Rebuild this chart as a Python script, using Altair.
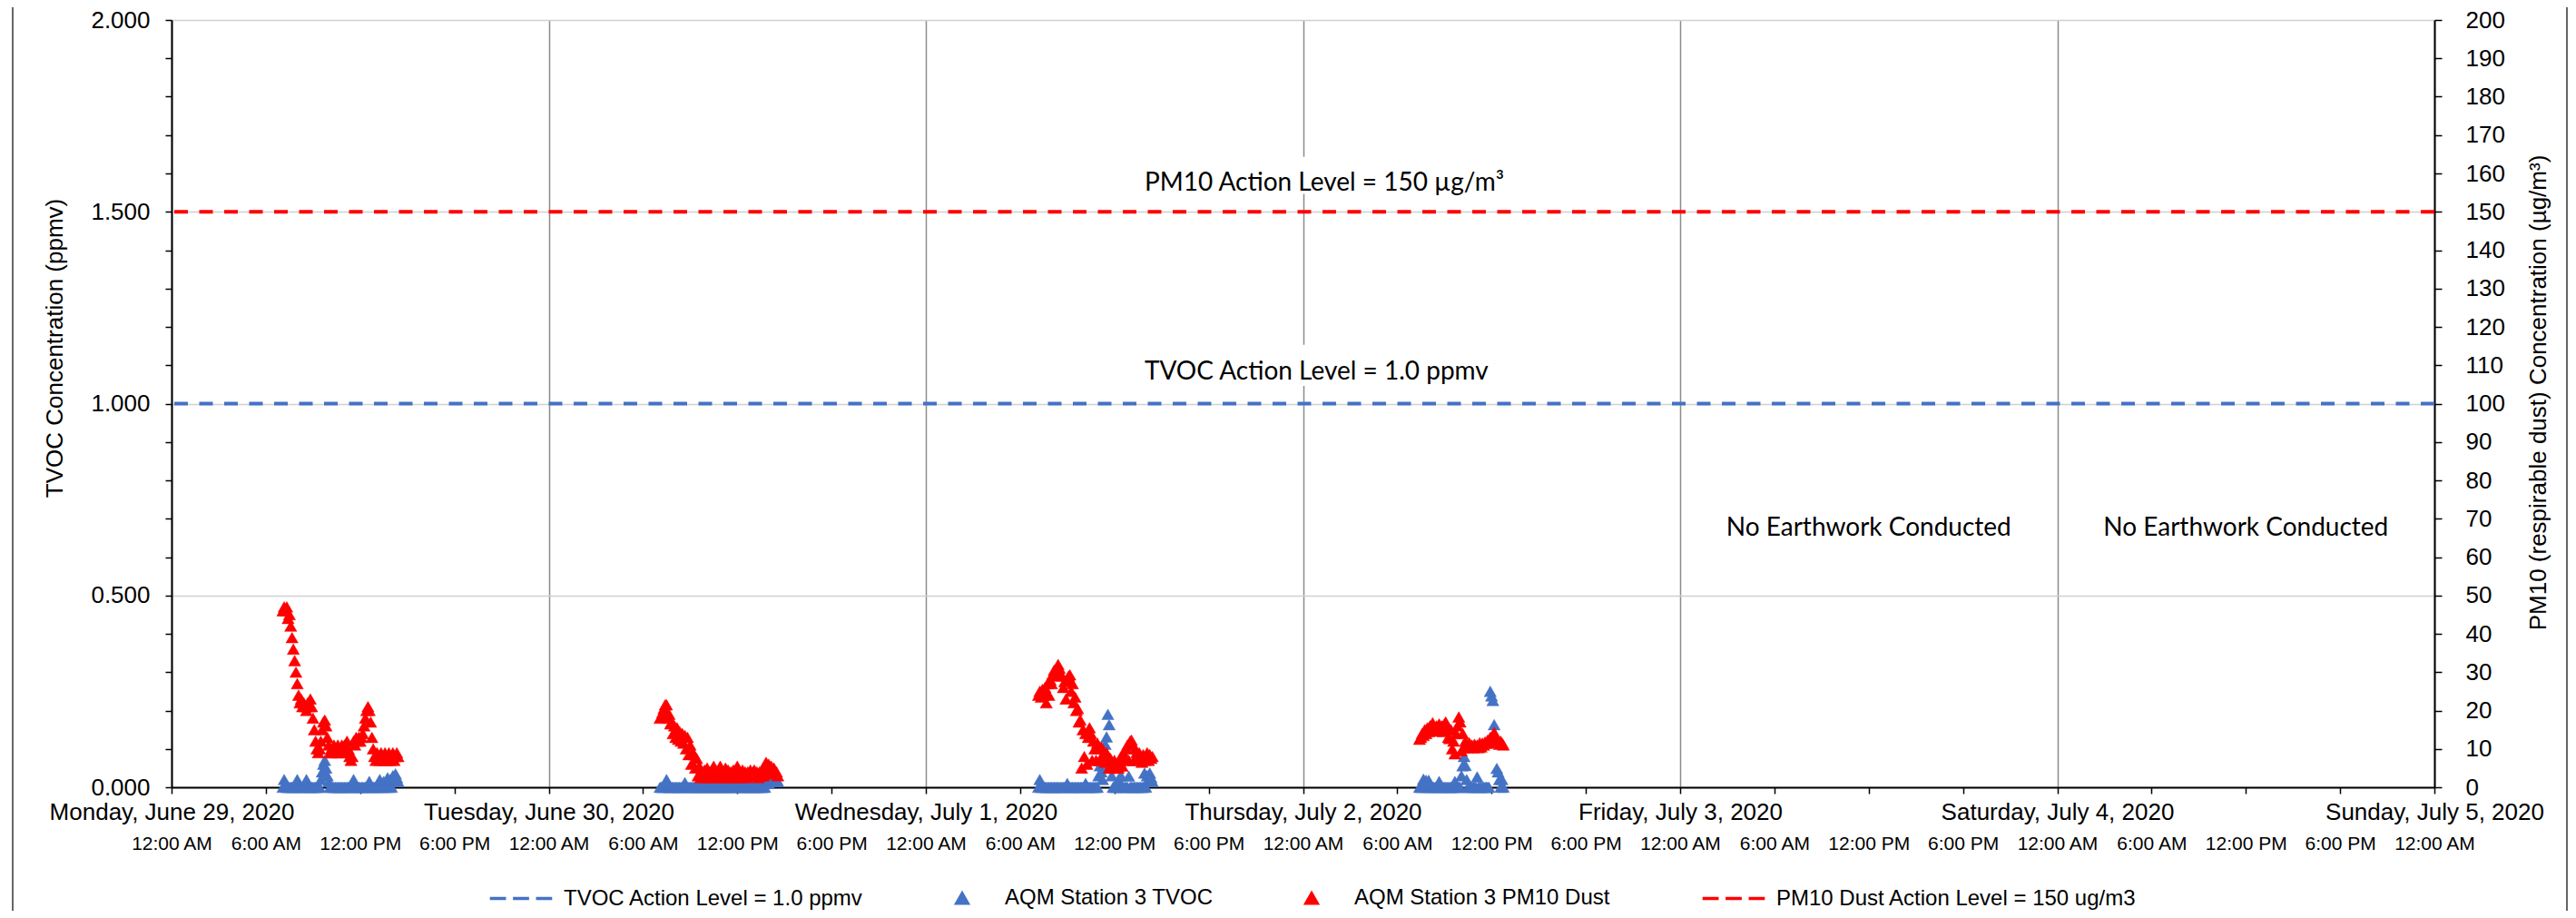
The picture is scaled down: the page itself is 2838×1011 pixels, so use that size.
import altair as alt
import pandas as pd

# ---------------- data ----------------
SERIES = ["TVOC Action Level = 1.0 ppmv", "AQM Station 3 TVOC",
          "AQM Station 3 PM10 Dust", "PM10 Dust Action Level = 150 ug/m3"]
COLORS = ["#4472C4", "#4472C4", "#FF0000", "#FF0000"]

# first reading of each monitored day, readings every 5 minutes
DAY_START = ["2020-06-29 07:05", "2020-06-30 07:05", "2020-07-01 07:10", "2020-07-02 07:25"]
STEP_MIN = 5

PM10_D1 = [46, 47, 46, 47, 44, 45, 42, 39, 36, 33, 30, 27,
           24, 22, 23, 21, 22, 21, 20, 22, 21, 23, 21, 18,
           15, 12, 10, 9, 10, 12, 15, 17, 17.5, 16, 13, 11,
           9, 10, 9, 11, 10, 9, 11, 10, 9, 11, 10, 11,
           9, 12, 10, 8, 7, 8, 12, 11, 13, 12, 13, 12,
           13, 14, 16, 18, 20, 21, 20, 17, 13, 10, 8, 7,
           9, 8, 7, 9, 8, 7, 9, 7, 8, 9, 7, 8,
           9, 7, 8, 9, 8]
TVOC_D1_PPB = [0, 20, 10, 0, 0, 0, 0, 0, 0, 0, 0, 20,
               0, 0, 0, 0, 0, 0, 20, 0, 0, 0, 0, 0,
               0, 0, 0, 0, 0, 20, 40, 60, 70, 50, 30, 15,
               0, 0, 0, 0, 0, 0, 0, 0, 0, 0, 0, 0,
               0, 0, 0, 0, 0, 0, 20, 0, 0, 0, 0, 0,
               0, 0, 0, 0, 0, 0, 15, 0, 0, 0, 0, 0,
               0, 0, 20, 0, 0, 15, 0, 0, 25, 0, 20, 0,
               30, 20, 35, 25, 15]

PM10_D2 = [18, 18.5, 19.5, 20.5, 21.5, 21.5, 18, 19, 16.5, 17, 14, 16,
           13, 15.5, 12.5, 14.5, 12, 14, 11.5, 13.5, 10, 13, 8.5, 11,
           6, 9, 8.5, 5, 7.5, 3, 5.5, 2.5, 4, 3, 4.5, 2.5,
           5, 3, 4, 2.5, 4.5, 5.5, 3, 4, 2.5, 4.5, 5.5, 3,
           4, 2.5, 5, 3, 4.5, 2.5, 4, 3, 4.5, 2.5, 4, 5.5,
           3, 4, 2.5, 4.5, 3, 4, 2.5, 4, 3, 4.5, 3, 4,
           4.5, 3, 4, 2.5, 4, 3, 4.5, 3, 5, 6.5, 4, 6,
           3.5, 5.5, 4, 5, 3.5, 4, 3]
TVOC_D2_PPB = [0, 0, 0, 0, 10, 20, 0, 0, 0, 0, 0, 0,
               0, 0, 0, 0, 0, 0, 0, 12, 0, 0, 0, 0,
               0, 0, 0, 0, 0, 0, 0, 0, 0, 0, 0, 0,
               0, 0, 0, 0, 0, 0, 0, 0, 0, 0, 0, 0,
               0, 0, 0, 0, 0, 0, 0, 0, 0, 0, 0, 8,
               0, 0, 0, 0, 0, 0, 0, 0, 0, 0, 0, 0,
               0, 0, 0, 0, 0, 0, 0, 0, 0, 15, 20, 10,
               20, 15, 20, 22, 18, 20, 15]

PM10_D3 = [24, 25, 23.5, 25.5, 24, 26, 22, 27, 24, 28, 27, 29.5,
           30.5, 29, 31, 32, 31, 29.5, 29, 26, 27.5, 23, 28, 29,
           29.3, 25, 27, 22, 23.5, 20, 20.5, 17, 17.5, 5, 15, 8,
           14, 6, 13, 15.5, 14, 7, 12, 10, 7, 11.5, 10, 7,
           10.5, 8, 9, 6.5, 9, 8, 5, 7.5, 6, 5, 7, 5,
           6, 5, 6.5, 8, 5.5, 9, 7, 10, 11, 7, 12, 12.3,
           11, 7, 10, 9, 7, 9, 8, 6.5, 8.5, 7, 8, 9,
           7, 8.5, 7.5, 8]
TVOC_D3_PPB = [0, 20, 0, 0, 0, 0, 0, 0, 0, 0, 0, 0,
               0, 0, 0, 0, 0, 0, 0, 0, 0, 0, 10, 0,
               0, 0, 0, 0, 0, 0, 0, 0, 0, 0, 0, 0,
               10, 0, 0, 0, 0, 0, 0, 0, 0, 0, 30, 56,
               40, 20, 56, 112, 131, 190, 163, 50, 30, 0, 0, 0,
               0, 20, 0, 30, 0, 0, 0, 0, 0, 29, 0, 0,
               0, 0, 0, 0, 0, 0, 0, 0, 0, 37, 0, 30,
               20, 37, 25, 15]

PM10_D4 = [12.5, 13, 14, 13.5, 15, 14, 15.5, 14.5, 16, 15, 16.8, 15.5,
           14.6, 16, 15, 16.5, 15.5, 16, 14.5, 16.5, 17, 15, 13, 12.7,
           15, 10, 12, 8.7, 14, 16, 18.3, 17, 9.5, 14, 10.3, 12,
           11, 10.3, 11.6, 10.5, 11, 10.3, 11.2, 10.5, 11, 10.3, 11.6, 10.5,
           11.5, 11, 11.8, 11.5, 12.3, 11.5, 13, 12, 13.5, 14.3, 13, 12.5,
           12, 11.2, 12, 11.5, 11]
TVOC_D4_PPB = [0, 0, 0, 21, 0, 18, 0, 18, 0, 0, 0, 0,
               0, 0, 0, 15, 0, 0, 0, 0, 0, 0, 0, 0,
               0, 0, 0, 15, 0, 0, 0, 0, 30, 56, 80, 57,
               20, 0, 0, 0, 0, 0, 0, 0, 27, 0, 0, 0,
               0, 0, 0, 0, 0, 0, 250, 238, 226, 163, 130, 49,
               40, 20, 0, 20, 0]

PM10_DAYS = [PM10_D1, PM10_D2, PM10_D3, PM10_D4]
TVOC_DAYS = [TVOC_D1_PPB, TVOC_D2_PPB, TVOC_D3_PPB, TVOC_D4_PPB]

TVOC_ACTION = [1.0]
PM10_ACTION = [150]

DAY_TICKS = [(6, 29), (6, 30), (7, 1), (7, 2), (7, 3), (7, 4), (7, 5)]
HOUR_TICKS = [0, 6, 12, 18]
TVOC_TICKS = [0.0, 0.1, 0.2, 0.3, 0.4, 0.5, 0.6, 0.7, 0.8, 0.9, 1.0,
              1.1, 1.2, 1.3, 1.4, 1.5, 1.6, 1.7, 1.8, 1.9, 2.0]
PM10_TICKS = [0, 10, 20, 30, 40, 50, 60, 70, 80, 90, 100,
              110, 120, 130, 140, 150, 160, 170, 180, 190, 200]

NOTE_LEFT_TEXT = ["PM10 Action Level = 150 µg/m³", "TVOC Action Level = 1.0 ppmv"]
NOTE_LEFT_TIME = ["2020-07-01 13:55", "2020-07-01 13:55"]
NOTE_LEFT_PPMV = [1.574, 1.082]
NOTE_MID_TEXT = ["No Earthwork Conducted", "No Earthwork Conducted"]
NOTE_MID_TIME = ["2020-07-03 12:00", "2020-07-04 12:00"]
NOTE_MID_PPMV = [0.675, 0.675]
BOX_T0 = ["2020-07-01 13:30", "2020-07-01 13:30"]
BOX_T1 = ["2020-07-02 06:30", "2020-07-02 06:00"]
BOX_LO = [1.547, 1.046]
BOX_HI = [1.643, 1.153]

# ---------------- tables ----------------
pm_rows, tv_rows = [], []
for d in range(len(DAY_START)):
    t0 = pd.Timestamp(DAY_START[d])
    for i, v in enumerate(PM10_DAYS[d]):
        pm_rows.append({"time": t0 + pd.Timedelta(minutes=STEP_MIN * i),
                        "series": SERIES[2], "value": v})
    for i, v in enumerate(TVOC_DAYS[d]):
        tv_rows.append({"time": t0 + pd.Timedelta(minutes=STEP_MIN * i),
                        "series": SERIES[1], "value": v / 1000.0})
pm_df = pd.DataFrame(pm_rows)
tv_df = pd.DataFrame(tv_rows)
tv_rule_df = pd.DataFrame({"value": TVOC_ACTION})
pm_rule_df = pd.DataFrame({"value": PM10_ACTION})
note_left_df = pd.DataFrame({"time": pd.to_datetime(NOTE_LEFT_TIME), "value": NOTE_LEFT_PPMV,
                             "label": NOTE_LEFT_TEXT})
note_mid_df = pd.DataFrame({"time": pd.to_datetime(NOTE_MID_TIME), "value": NOTE_MID_PPMV,
                            "label": NOTE_MID_TEXT})
box_df = pd.DataFrame({"time": pd.to_datetime(BOX_T0), "time2": pd.to_datetime(BOX_T1),
                       "value": BOX_LO, "value2": BOX_HI})
frame_df = pd.DataFrame({"edge": ["chart border"]})

# ---------------- styling ----------------
FONT = "Liberation Sans"
NOTE_FONT = "Lato"
DASH_PATH = "M-5.6,0L-2.7,0M-1.45,0L1.45,0M2.7,0L5.6,0"
SHAPES = [DASH_PATH, "triangle-up", "triangle-up", DASH_PATH]


def dt(m, d, h=0):
    return alt.DateTime(year=2020, month=m, date=d, hours=h)


DAY_VALUES = [dt(m, d) for m, d in DAY_TICKS]
TIME_VALUES = [dt(m, d, h) for m, d in DAY_TICKS[:-1] for h in HOUR_TICKS] + [dt(*DAY_TICKS[-1])]

XS = alt.Scale(domain=[DAY_VALUES[0], DAY_VALUES[-1]], nice=False)

AX_TIME = alt.Axis(orient="bottom", values=TIME_VALUES, format="%-I:%M %p", title=None,
                   labelFont=FONT, labelFontSize=21, labelColor="black", labelPadding=44,
                   labelFlush=False, labelOverlap=False, labelLimit=0, tickSize=7,
                   tickColor="black", tickWidth=1.5, domainColor="black", domainWidth=2,
                   grid=False)
AX_DAY = alt.Axis(orient="bottom", values=DAY_VALUES, format="%A, %B %-d, %Y", title=None,
                  labelFont=FONT, labelFontSize=26, labelColor="black", labelPadding=14,
                  labelFlush=False, labelOverlap=False, labelLimit=0, ticks=False, tickSize=0,
                  domain=False, grid=True, gridColor="#8c8c8c", gridWidth=1.5)
AX_TVOC = alt.Axis(orient="left", values=TVOC_TICKS, title="TVOC Concentration (ppmv)",
                   labelExpr="abs(datum.value*2 - round(datum.value*2)) < 0.001 ? format(datum.value, '.3f') : ''",
                   labelFont=FONT, labelFontSize=26, labelColor="black", labelPadding=17,
                   labelOverlap=False, tickSize=7, tickColor="black", tickWidth=1.5,
                   domainColor="black", domainWidth=2,
                   grid=True, gridColor="#d0d0d0", gridWidth=1.5,
                   gridOpacity={"condition": {"test": "abs(datum.value*2 - round(datum.value*2)) < 0.001",
                                              "value": 1}, "value": 0},
                   titleFont=FONT, titleFontSize=26, titleFontWeight="normal", titleColor="black",
                   titlePadding=26, titleY=361)
AX_PM = alt.Axis(orient="right", values=PM10_TICKS,
                 title="PM10 (respirable dust) Concentration (µg/m³)",
                 labelFont=FONT, labelFontSize=26, labelColor="black", labelPadding=26,
                 labelOverlap=False, tickSize=8, tickColor="black", tickWidth=1.5,
                 domainColor="black", domainWidth=2, grid=False,
                 titleFont=FONT, titleFontSize=26, titleFontWeight="normal", titleColor="black",
                 titlePadding=24, titleAngle=270, titleBaseline="top", titleY=410)

LEG = alt.Legend(title=None, orient="none", legendX=373, legendY=955, direction="horizontal",
                 labelFont=FONT, labelFontSize=24, labelColor="black", labelLimit=0,
                 symbolSize=150, symbolStrokeWidth=3.5, labelOffset=35, columnPadding=94)

fill_enc = alt.Fill("series:N", scale=alt.Scale(domain=SERIES, range=COLORS), legend=LEG)
stroke_enc = alt.Stroke("series:N", scale=alt.Scale(domain=SERIES, range=COLORS), legend=LEG)
shape_enc = alt.Shape("series:N", scale=alt.Scale(domain=SERIES, range=SHAPES), legend=LEG)

x_time = alt.X("time:T", scale=XS, axis=AX_TIME, title=None)
x_day = alt.X("time:T", scale=XS, axis=AX_DAY, title=None)
y_tv = alt.Y("value:Q", scale=alt.Scale(domain=[0, 2], nice=False), axis=AX_TVOC)
y_pm = alt.Y("value:Q", scale=alt.Scale(domain=[0, 200], nice=False), axis=AX_PM)

# ---------------- layers ----------------
boxes = alt.Chart(box_df).mark_rect(color="white").encode(
    x=x_time, x2="time2:T", y=y_tv, y2="value2:Q")
tv_pts = alt.Chart(tv_df).mark_point(filled=True, size=180, opacity=1, strokeWidth=0.5).encode(
    x=x_time, y=y_tv, fill=fill_enc, stroke=stroke_enc, shape=shape_enc)
tv_rule = alt.Chart(tv_rule_df).mark_rule(color=COLORS[0], strokeWidth=4,
                                          strokeDash=[15, 12.5]).encode(y=y_tv)
notes_left = alt.Chart(note_left_df).mark_text(align="left", baseline="middle", font=NOTE_FONT,
                                               fontSize=28, color="black").encode(
    x=x_time, y=y_tv, text="label:N")
notes_mid = alt.Chart(note_mid_df).mark_text(align="center", baseline="middle", font=NOTE_FONT,
                                             fontSize=28, color="black").encode(
    x=x_time, y=y_tv, text="label:N")
# thin outer chart border (left and right edges of the chart area)
border_left = alt.Chart(frame_df).mark_rule(color="#333333", strokeWidth=1.5).encode(
    x=alt.value(-175), y=alt.value(-40), y2=alt.value(1000))
border_right = alt.Chart(frame_df).mark_rule(color="#333333", strokeWidth=1.5).encode(
    x=alt.value(2639), y=alt.value(-40), y2=alt.value(1000))
layer_tvoc = alt.layer(boxes, tv_pts, tv_rule, notes_left, notes_mid, border_left, border_right)

pm_pts = alt.Chart(pm_df).mark_point(filled=True, size=180, opacity=1, strokeWidth=0.5).encode(
    x=x_day, y=y_pm, fill=fill_enc, stroke=stroke_enc, shape=shape_enc)
pm_rule = alt.Chart(pm_rule_df).mark_rule(color=COLORS[2], strokeWidth=4,
                                          strokeDash=[15, 12.5]).encode(y=y_pm)
layer_pm = alt.layer(pm_pts, pm_rule)

chart = alt.layer(layer_tvoc, layer_pm).resolve_scale(
    y="independent"
).resolve_axis(
    x="independent", y="independent"
).properties(
    width=2493, height=845,
    padding={"left": 181, "top": 14, "right": 148, "bottom": 136},
    autosize=alt.AutoSizeParams(type="none"),
    background="white",
).configure_view(stroke=None)

chart.save("out.html", embed_options={"renderer": "svg", "actions": False})
